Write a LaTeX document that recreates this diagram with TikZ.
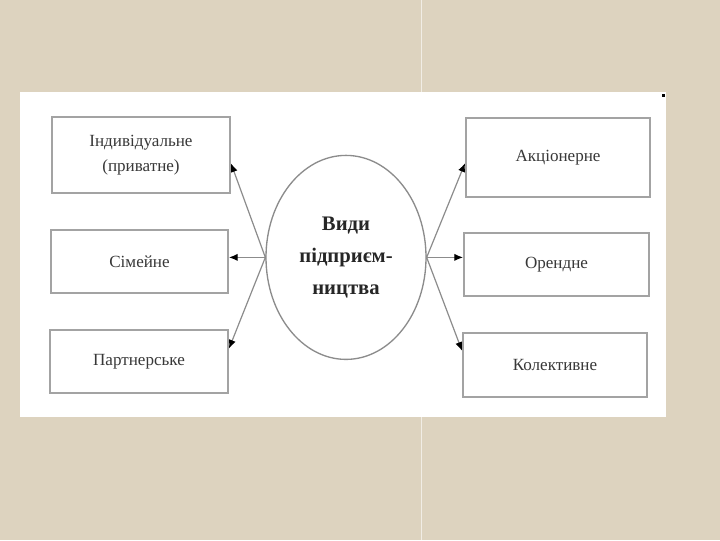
\documentclass[tikz,border=0pt]{standalone}
\usepackage{fontspec}
\setmainfont{Liberation Serif}
\usetikzlibrary{arrows.meta,calc,backgrounds}
\definecolor{bgbeige}{HTML}{DDD3BF}
\definecolor{boxline}{HTML}{A3A3A3}
\definecolor{conn}{HTML}{8C8C8C}
\definecolor{txt}{HTML}{383838}
\pgfdeclarelayer{bglayer}
\pgfdeclarelayer{linelayer}
\pgfsetlayers{bglayer,linelayer,main}
\tikzset{
  kindbox/.style={draw=boxline, line width=1.5pt, fill=white, inner sep=0pt,
    text=txt, align=center, font=\fontsize{12.8}{19}\selectfont},
  hub/.style={draw=conn, line width=1pt, ellipse, fill=white, inner sep=0pt,
    minimum width=120pt, minimum height=153pt, align=center, text=black!85,
    font=\fontsize{15.5}{24}\selectfont\bfseries},
  conn/.style={draw=conn, line width=0.9pt, -{Latex[length=6.5pt,width=5.5pt,color=black]}}
}
\usetikzlibrary{shapes.geometric}
\begin{document}
\begin{tikzpicture}[x=0.75pt,y=-0.75pt]
\begin{pgfonlayer}{bglayer}
  \fill[bgbeige] (0,0) rectangle (720,540);
  \draw[white, opacity=0.6, line width=0.6pt] (421,0) -- (421,540);
  \fill[white] (20,92) rectangle (666,417);
  \fill[black] (661.5,93.5) rectangle (664.5,96.5);
\end{pgfonlayer}
\useasboundingbox (0,0) rectangle (720,540);

\node[kindbox, minimum width=133.5pt, minimum height=57pt] (L1) at (141,155) {Індивідуальне\\(приватне)};
\node[kindbox, minimum width=132.75pt, minimum height=47.25pt] (L2) at (139.5,261.5) {Сімейне};
\node[kindbox, minimum width=133.5pt, minimum height=47.25pt] (L3) at (139,361.5) {Партнерське};
\node[kindbox, minimum width=138pt, minimum height=59.25pt] (R1) at (558,157.5) {Акціонерне};
\node[kindbox, minimum width=138.75pt, minimum height=47.25pt] (R2) at (556.5,264.5) {Орендне};
\node[kindbox, minimum width=138pt, minimum height=48pt] (R3) at (555,365) {Колективне};

\node[hub] (E) at (346,257) {Види\\підприєм-\\ництва};

\coordinate (tL1) at ([yshift=-6pt]L1.east);
\coordinate (tL3) at ([yshift=10pt]L3.east);
\coordinate (tR1) at ([yshift=-4pt]R1.west);
\coordinate (tR3) at ([yshift=11pt]R3.west);
\coordinate (sL1) at ($(E.west)!-0.1!(tL1)$);
\coordinate (sL3) at ($(E.west)!-0.1!(tL3)$);
\coordinate (sR1) at ($(E.east)!-0.1!(tR1)$);
\coordinate (sR3) at ($(E.east)!-0.1!(tR3)$);

\begin{pgfonlayer}{linelayer}
  \draw[conn] (sL1) -- (tL1);
  \draw[conn] (sL3) -- (tL3);
  \draw[conn] (sR1) -- (tR1);
  \draw[conn] (sR3) -- (tR3);
\end{pgfonlayer}
\draw[conn] (E.west) -- (E.west -| L2.east);
\draw[conn] (E.east) -- (E.east -| R2.west);
\end{tikzpicture}
\end{document}
